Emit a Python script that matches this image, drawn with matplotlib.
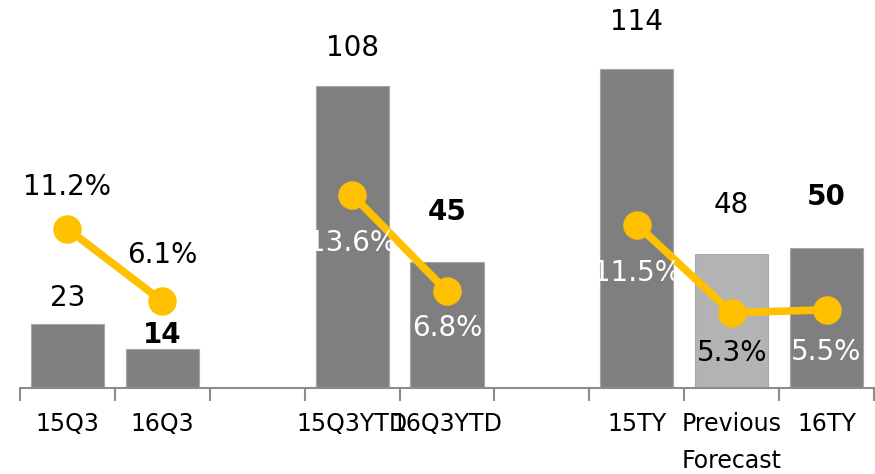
import numpy as np
import matplotlib.pyplot as plt

# categories (blank entries are the gaps between groups)
categories = ["15Q3", "16Q3", "", "15Q3YTD", "16Q3YTD", "", "15TY", "Previous\nForecast", "16TY"]
profit = [23, 14, None, 108, 45, None, 114, 48, 50]
margin = [11.2, 6.1, None, 13.6, 6.8, None, 11.5, 5.3, 5.5]
bold_bar = [False, True, None, False, True, None, False, False, True]

# label placement (pixels)
bar_lab_off = [26, 14, 0, 38, 50, 0, 47, 49, 51]
pct_lab_off = [42, 46, 0, -48, -37, 0, -48, -40, -42]
pct_lab_col = ["black", "black", None, "white", "white", None, "white", "black", "white"]

plt.rcParams['font.family'] = ['DejaVu Sans']

fig = plt.figure(figsize=(8.75, 4.74), dpi=100)
ax = fig.add_axes([20 / 875, 86 / 474, 854 / 875, 388 / 474])

x = np.arange(len(categories))
for i, v in enumerate(profit):
    if v is None:
        continue
    col = '#b3b3b3' if categories[i].startswith("Previous") else '#7f7f7f'
    ax.bar(x[i], v, width=0.77, color=col, edgecolor='#a6a6a6', linewidth=0.8, zorder=2)
    ax.annotate(str(v), (x[i], v), xytext=(0, bar_lab_off[i]), textcoords='offset pixels',
                ha='center', va='center', fontsize=20,
                fontweight='bold' if bold_bar[i] else 'normal', zorder=5)

ax.set_xlim(-0.5, len(categories) - 0.5)
ax.set_ylim(0, 138.6)
ax.set_xticks(x)
ax.set_xticklabels(categories, fontsize=17, linespacing=1.7)
ax.set_xticks(np.arange(-0.5, len(categories)), minor=True)
ax.tick_params(axis='x', which='major', length=0, pad=17)
ax.tick_params(axis='x', which='minor', length=9, width=1.5, color='#8c8c8c', direction='out')
ax.set_yticks([])
for s in ['top', 'left', 'right']:
    ax.spines[s].set_visible(False)
ax.spines['bottom'].set_color('#8c8c8c')
ax.spines['bottom'].set_linewidth(1.5)

ax2 = ax.twinx()
ax2.set_ylim(0, 27.3)
m = np.array([np.nan if v is None else v for v in margin])
ax2.plot(x, m, color='#ffc000', lw=5.5, marker='o', markersize=19.5, zorder=3)
for i, v in enumerate(margin):
    if v is None:
        continue
    ax2.annotate(f"{v}%", (x[i], v), xytext=(0, pct_lab_off[i]), textcoords='offset pixels',
                 ha='center', va='center', fontsize=20, color=pct_lab_col[i], zorder=6)
ax2.set_yticks([])
for s in ax2.spines.values():
    s.set_visible(False)

fig.savefig('out.png', dpi=100)
